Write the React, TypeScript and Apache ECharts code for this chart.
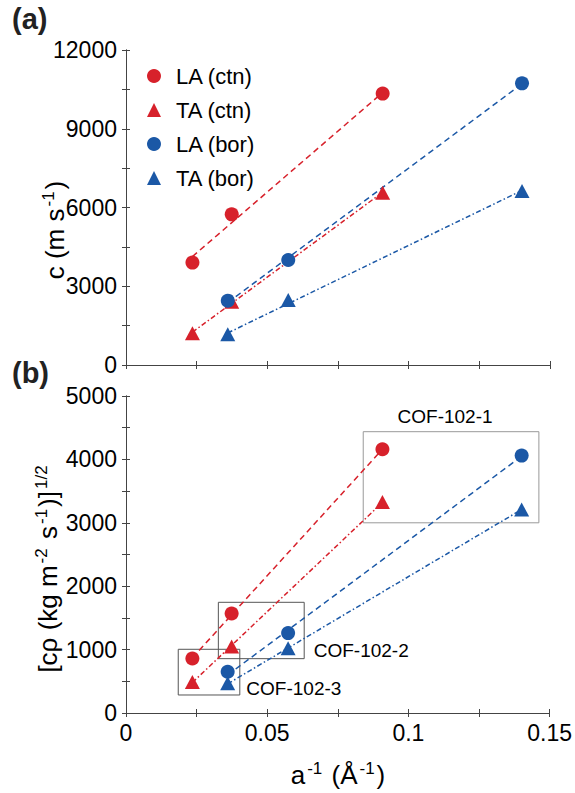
import React, { useEffect, useRef } from 'react';
import * as echarts from 'echarts';

// x values (Å^-1)
const xCtn = [0.0235, 0.0374, 0.0908];
const xBor = [0.036, 0.0574, 0.1401];

// (a) sound velocity c (m/s)
const cLActn = [3900, 5740, 10340];
const cTActn = [1210, 2410, 6560];
const cLAbor = [2450, 4000, 10730];
const cTAbor = [1170, 2480, 6630];

// (b) [c rho]^1/2
const zLActn = [860, 1570, 4160];
const zTActn = [490, 1050, 3330];
const zLAbor = [650, 1260, 4060];
const zTAbor = [470, 1020, 3210];

// fitted line endpoints
const fitXctn = [0.0235, 0.0908];
const fitXbor = [0.036, 0.1401];
const cFitLActn = [4130, 10380];
const cFitTActn = [1250, 6580];
const cFitLAbor = [2380, 10710];
const cFitTAbor = [1220, 6650];
const zFitLActn = [870, 4160];
const zFitTActn = [480, 3320];
const zFitLAbor = [600, 4050];
const zFitTAbor = [460, 3210];

// annotation boxes in panel (b)
const boxNames = ['COF-102-1', 'COF-102-2', 'COF-102-3'];
const boxX0 = [0.084, 0.0327, 0.0185];
const boxX1 = [0.1462, 0.0631, 0.0403];
const boxY0 = [3000, 857, 284];
const boxY1 = [4437, 1746, 1005];

const xTickValues = [0, 0.05, 0.1, 0.15];
const xTickLabels = ['0', '0.05', '0.1', '0.15'];

const seriesNames = ['LA (ctn)', 'TA (ctn)', 'LA (bor)', 'TA (bor)'];

const RED = '#d7212b';
const BLUE = '#1b58a6';
const FONT = 'Liberation Sans, Arial, sans-serif';
const DASH = [6, 4];
const DASHDOT = [5, 2.5, 1.5, 2.5];

const pairs = (xs: number[], ys: number[]) => xs.map((x, i) => [x, ys[i]]);

export default function App() {
  const ref = useRef<HTMLDivElement>(null);
  useEffect(() => {
    if (!ref.current) return;
    const chart = echarts.init(ref.current, null, { renderer: 'svg' });

    const axisLine = { show: true, lineStyle: { color: '#444', width: 1 } };
    const tick = { show: true, inside: true, length: 4, lineStyle: { color: '#444' } };
    const xFmt = (v: number) => {
      const k = xTickValues.findIndex((t) => Math.abs(t - v) < 1e-9);
      return k >= 0 ? xTickLabels[k] : '';
    };
    const mkX = (grid: number, pos: string, labels: boolean) => ({
      type: 'value', gridIndex: grid, position: pos, min: 0, max: 0.15, interval: 0.025,
      axisLine, axisTick: tick, splitLine: { show: false },
      axisLabel: labels
        ? { show: true, formatter: xFmt, fontSize: 23, color: '#000', fontFamily: FONT, margin: 8, showMinLabel: true, showMaxLabel: true }
        : { show: false },
    });
    const mkY = (grid: number, pos: string, max: number, step: number, major: number, labels: boolean) => ({
      type: 'value', gridIndex: grid, position: pos, min: 0, max, interval: step,
      axisLine, axisTick: tick, splitLine: { show: false },
      axisLabel: labels
        ? { show: true, formatter: (v: number) => (Math.round(v) % major === 0 ? String(Math.round(v)) : ''), fontSize: 23, color: '#000', fontFamily: FONT, margin: 9, showMinLabel: true, showMaxLabel: true }
        : { show: false },
    });

    const line = (name: string, xi: number, yi: number, xs: number[], ys: number[], color: string, dash: number[], extra: any = {}) => ({
      name, type: 'line', xAxisIndex: xi, yAxisIndex: yi, data: pairs(xs, ys), symbol: 'none', silent: true,
      lineStyle: { color, width: 1.5, type: dash }, z: 1, ...extra,
    });
    const scat = (name: string, xi: number, yi: number, xs: number[], ys: number[], color: string, tri: boolean) => ({
      name, type: 'scatter', xAxisIndex: xi, yAxisIndex: yi, data: pairs(xs, ys),
      symbol: tri ? 'triangle' : 'circle', symbolSize: tri ? [15, 14] : 14,
      itemStyle: { color, opacity: 1 }, z: 3,
    });

    const boxColors = ['#999', '#555', '#555'];
    const boxLabelPos = ['top', 'right', 'right'];
    const boxLabelOffset = [[-6, 0], [0, 20], [0, 16]];
    const boxLabelDist = [5, 9, 6];
    const markAreaData = boxNames.map((n, i) => [
      {
        name: n, xAxis: boxX0[i], yAxis: boxY1[i],
        itemStyle: { color: 'rgba(0,0,0,0)', borderColor: boxColors[i], borderWidth: 1 },
        label: { show: true, position: boxLabelPos[i], offset: boxLabelOffset[i], distance: boxLabelDist[i], fontSize: 19, color: '#000', fontFamily: FONT },
      },
      { xAxis: boxX1[i], yAxis: boxY0[i] },
    ]);

    const supStyle = { fontSize: 17, fontFamily: FONT, color: '#000', verticalAlign: 'top', lineHeight: 17, padding: [0, 2, 12, 2] };
    const nStyle = { fontSize: 26, fontFamily: FONT, color: '#000', lineHeight: 30 };

    chart.setOption({
      animation: false,
      backgroundColor: '#fff',
      textStyle: { fontFamily: FONT },
      grid: [
        { left: 126, top: 50, width: 424, height: 315, containLabel: false },
        { left: 126, top: 396, width: 424, height: 317, containLabel: false },
      ],
      xAxis: [mkX(0, 'bottom', false), mkX(0, 'top', false), mkX(1, 'bottom', true), mkX(1, 'top', false)],
      yAxis: [
        mkY(0, 'left', 12000, 1500, 3000, true), mkY(0, 'right', 12000, 1500, 3000, false),
        mkY(1, 'left', 5000, 500, 1000, true), mkY(1, 'right', 5000, 500, 1000, false),
      ],
      legend: {
        data: seriesNames, orient: 'vertical', left: 147, top: 65, padding: 0,
        itemWidth: 14, itemHeight: 14, itemGap: 12,
        textStyle: { fontSize: 22, color: '#000', fontFamily: FONT, padding: [0, 0, 0, 10] },
        selectedMode: false,
      },
      graphic: [
        { type: 'text', left: 12, top: 4, style: { text: '(a)', fontSize: 29, fontWeight: 'bold', fontFamily: FONT, fill: '#222' } },
        { type: 'text', left: 12, top: 358, style: { text: '(b)', fontSize: 29, fontWeight: 'bold', fontFamily: FONT, fill: '#222' } },
        {
          type: 'text', x: 55, y: 230, rotation: Math.PI / 2,
          style: { text: '{n|c (m s}{s|-1}{n|)}', align: 'center', verticalAlign: 'middle', rich: { n: nStyle, s: supStyle } },
        },
        {
          type: 'text', x: 48, y: 568, rotation: Math.PI / 2,
          style: { text: '{n|[cρ (kg m}{s|-2}{n| s}{s|-1}{n|)]}{s|1/2}', align: 'center', verticalAlign: 'middle', rich: { n: nStyle, s: supStyle } },
        },
        {
          type: 'text', x: 338, y: 775,
          style: { text: '{n|a}{s|-1}{n| (Å}{s|-1}{n|)}', align: 'center', verticalAlign: 'middle', rich: { n: nStyle, s: supStyle } },
        },
      ],
      series: [
        line('fa1', 0, 0, fitXctn, cFitLActn, RED, DASH),
        line('fa2', 0, 0, fitXctn, cFitTActn, RED, DASHDOT),
        line('fa3', 0, 0, fitXbor, cFitLAbor, BLUE, DASH),
        line('fa4', 0, 0, fitXbor, cFitTAbor, BLUE, DASHDOT),
        line('fb1', 2, 2, fitXctn, zFitLActn, RED, DASH, { markArea: { silent: true, data: markAreaData } }),
        line('fb2', 2, 2, fitXctn, zFitTActn, RED, DASHDOT),
        line('fb3', 2, 2, fitXbor, zFitLAbor, BLUE, DASH),
        line('fb4', 2, 2, fitXbor, zFitTAbor, BLUE, DASHDOT),
        scat(seriesNames[0], 0, 0, xCtn, cLActn, RED, false),
        scat(seriesNames[1], 0, 0, xCtn, cTActn, RED, true),
        scat(seriesNames[2], 0, 0, xBor, cLAbor, BLUE, false),
        scat(seriesNames[3], 0, 0, xBor, cTAbor, BLUE, true),
        scat(seriesNames[0], 2, 2, xCtn, zLActn, RED, false),
        scat(seriesNames[1], 2, 2, xCtn, zTActn, RED, true),
        scat(seriesNames[2], 2, 2, xBor, zLAbor, BLUE, false),
        scat(seriesNames[3], 2, 2, xBor, zTAbor, BLUE, true),
      ],
    });
    return () => chart.dispose();
  }, []);
  return <div ref={ref} style={{ position: 'fixed', left: 0, top: 0, width: 575, height: 793, background: '#fff' }} />;
}
